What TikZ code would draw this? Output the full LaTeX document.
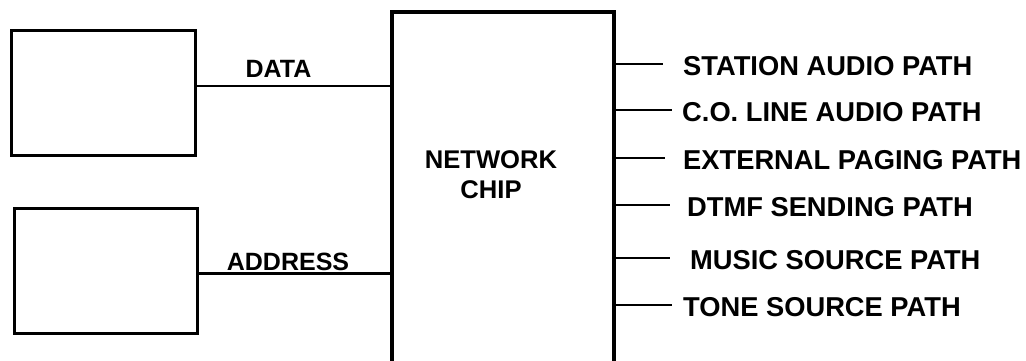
\documentclass[tikz,border=0pt]{standalone}
\usepackage{fontspec}
\setmainfont{Liberation Sans}
\begin{document}
\begin{tikzpicture}[x=1pt,y=-1pt,
  blk/.style={draw, line width=3pt, inner sep=0pt, minimum width=#1},
  conn/.style={line width=2.2pt},
  lefttxt/.style={inner sep=0pt, font=\fontsize{25}{28}\selectfont\bfseries},
  righttxt/.style={inner sep=0pt, anchor=west, font=\fontsize{27.3}{30}\selectfont\bfseries},
  chiptxt/.style={inner sep=0pt, align=center, font=\fontsize{25.6}{30}\selectfont\bfseries}]
\useasboundingbox (0,0) rectangle (1026,360);
\clip (0,0) rectangle (1026,360);
% boxes
\node[blk=184pt, minimum height=125pt] (box1) at (103,92.5) {};
\node[blk=183pt, minimum height=125pt] (box2) at (105.5,270.5) {};
\node[draw, line width=3.5pt, inner sep=0pt, minimum width=222pt, minimum height=368pt] (chip) at (503,196) {};
\node[chiptxt] (chiplbl) at (491,175) {NETWORK\\CHIP};
% left connectors
\coordinate (dy) at (0,86);
\coordinate (ay) at (0,273.5);
\draw[conn] (box1.east |- dy) -- (chip.west |- dy);
\draw[conn] (box2.east |- ay) -- (chip.west |- ay);
\node[lefttxt, anchor=base] (data) at (278.5,77.5) {DATA};
\node[lefttxt, anchor=base] (addr) at (288,270) {ADDRESS};
% right stubs
\coordinate (s1) at (663,64);
\coordinate (s2) at (672,110);
\coordinate (s3) at (665,158);
\coordinate (s4) at (670,205);
\coordinate (s5) at (670,258);
\coordinate (s6) at (672,305);
\draw[conn] (chip.east |- s1) -- (s1);
\draw[conn] (chip.east |- s2) -- (s2);
\draw[conn] (chip.east |- s3) -- (s3);
\draw[conn] (chip.east |- s4) -- (s4);
\draw[conn] (chip.east |- s5) -- (s5);
\draw[conn] (chip.east |- s6) -- (s6);
\node[righttxt] (l1) at (683,66) {STATION AUDIO PATH};
\node[righttxt] (l2) at (682,112) {C.O. LINE AUDIO PATH};
\node[righttxt] (l3) at (683,160) {EXTERNAL PAGING PATH};
\node[righttxt] (l4) at (687,207) {DTMF SENDING PATH};
\node[righttxt] (l5) at (690,260) {MUSIC SOURCE PATH};
\node[righttxt] (l6) at (683,307) {TONE SOURCE PATH};
\end{tikzpicture}
\end{document}
